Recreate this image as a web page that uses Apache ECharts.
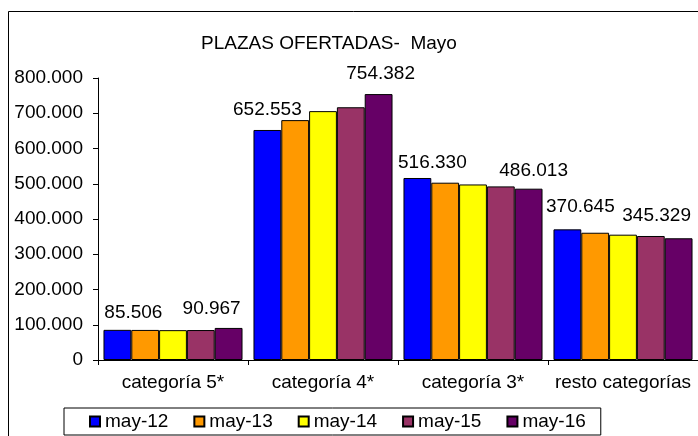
<!DOCTYPE html>
<html>
<head>
<meta charset="utf-8">
<script src="https://cdn.jsdelivr.net/npm/echarts@6/dist/echarts.min.js"></script>
<style>
  html, body { margin: 0; padding: 0; background: #fff; overflow: hidden; }
  #main { width: 698px; height: 436px; }
</style>
</head>
<body>
<div id="main"></div>
<script>
// data
const categories = ['categoría 5*', 'categoría 4*', 'categoría 3*', 'resto categorías'];
const seriesNames = ['may-12', 'may-13', 'may-14', 'may-15', 'may-16'];
const may12 = [85506, 652553, 516330, 370645];
const may13 = [85300, 680500, 503000, 361000];
const may14 = [84700, 706000, 498000, 355500];
const may15 = [85000, 717000, 492500, 351800];
const may16 = [90967, 754382, 486013, 345329];
const yTicks = { min: 0, max: 800000, step: 100000 };

const colors = ['#0000FF', '#FF9900', '#FFFF00', '#993366', '#660066'];
const font = "'Liberation Sans', Arial, sans-serif";

// label nudges (dx, dy) for first and last series, per category
const nudgeFirst = [[16, 1], [0, -2], [15, 3], [13, -4]];
const nudgeLast = [[-17, -1], [2, -2], [5, 1], [-22, -4]];

function fmt(v) {
    return String(Math.round(v)).replace(/\B(?=(\d{3})+(?!\d))/g, '.');
}

const allValues = [may12, may13, may14, may15, may16];

function buildSeries(values, i) {
    const labelled = i === 0 || i === allValues.length - 1;
    const nudge = i === 0 ? nudgeFirst : nudgeLast;
    return {
        name: seriesNames[i],
        type: 'bar',
        barGap: '0%',
        barCategoryGap: '7.3%',
        itemStyle: { color: colors[i], borderColor: '#000', borderWidth: 1 },
        data: values.map((v, j) => {
            if (!labelled) return v;
            return {
                value: v,
                label: {
                    show: true,
                    position: 'top',
                    distance: 9,
                    offset: nudge[j],
                    formatter: p => fmt(p.value),
                    color: '#000',
                    fontSize: 19,
                    fontFamily: font
                }
            };
        })
    };
}

const option = {
    animation: false,
    backgroundColor: '#fff',
    color: colors,
    title: {
        text: 'PLAZAS OFERTADAS-  Mayo',
        left: 196,
        top: 29,
        textStyle: { color: '#000', fontSize: 19, fontWeight: 'normal', fontFamily: font }
    },
    legend: {
        data: seriesNames,
        left: 64,
        top: 408,
        orient: 'horizontal',
        itemWidth: 10,
        itemHeight: 10,
        itemGap: 25,
        padding: [4, 15, 4, 25],
        borderColor: '#000',
        borderWidth: 1,
        icon: 'rect',
        textStyle: { color: '#000', fontSize: 19, fontFamily: font }
    },
    grid: { left: 98, top: 78, right: -4, bottom: 76, containLabel: false },
    xAxis: {
        type: 'category',
        data: categories,
        axisLine: { lineStyle: { color: '#000', width: 1 } },
        axisTick: { show: true, length: 5, lineStyle: { color: '#000' } },
        axisLabel: { color: '#000', fontSize: 19, fontFamily: font, margin: 13, interval: 0 }
    },
    yAxis: {
        type: 'value',
        min: yTicks.min,
        max: yTicks.max,
        interval: yTicks.step,
        splitLine: { show: false },
        axisLine: { show: true, lineStyle: { color: '#000', width: 1 } },
        axisTick: { show: true, length: 5, lineStyle: { color: '#000' } },
        axisLabel: { color: '#000', fontSize: 19, fontFamily: font, margin: 15, formatter: v => fmt(v) }
    },
    graphic: [{
        type: 'rect',
        shape: { x: 8.5, y: 11.5, width: 720, height: 460 },
        style: { fill: null, stroke: '#000', lineWidth: 1 },
        silent: true,
        z: -1
    }],
    series: allValues.map(buildSeries)
};

let plot = echarts.init(document.querySelector('#main'));
plot.setOption(option);
</script>
</body>
</html>
